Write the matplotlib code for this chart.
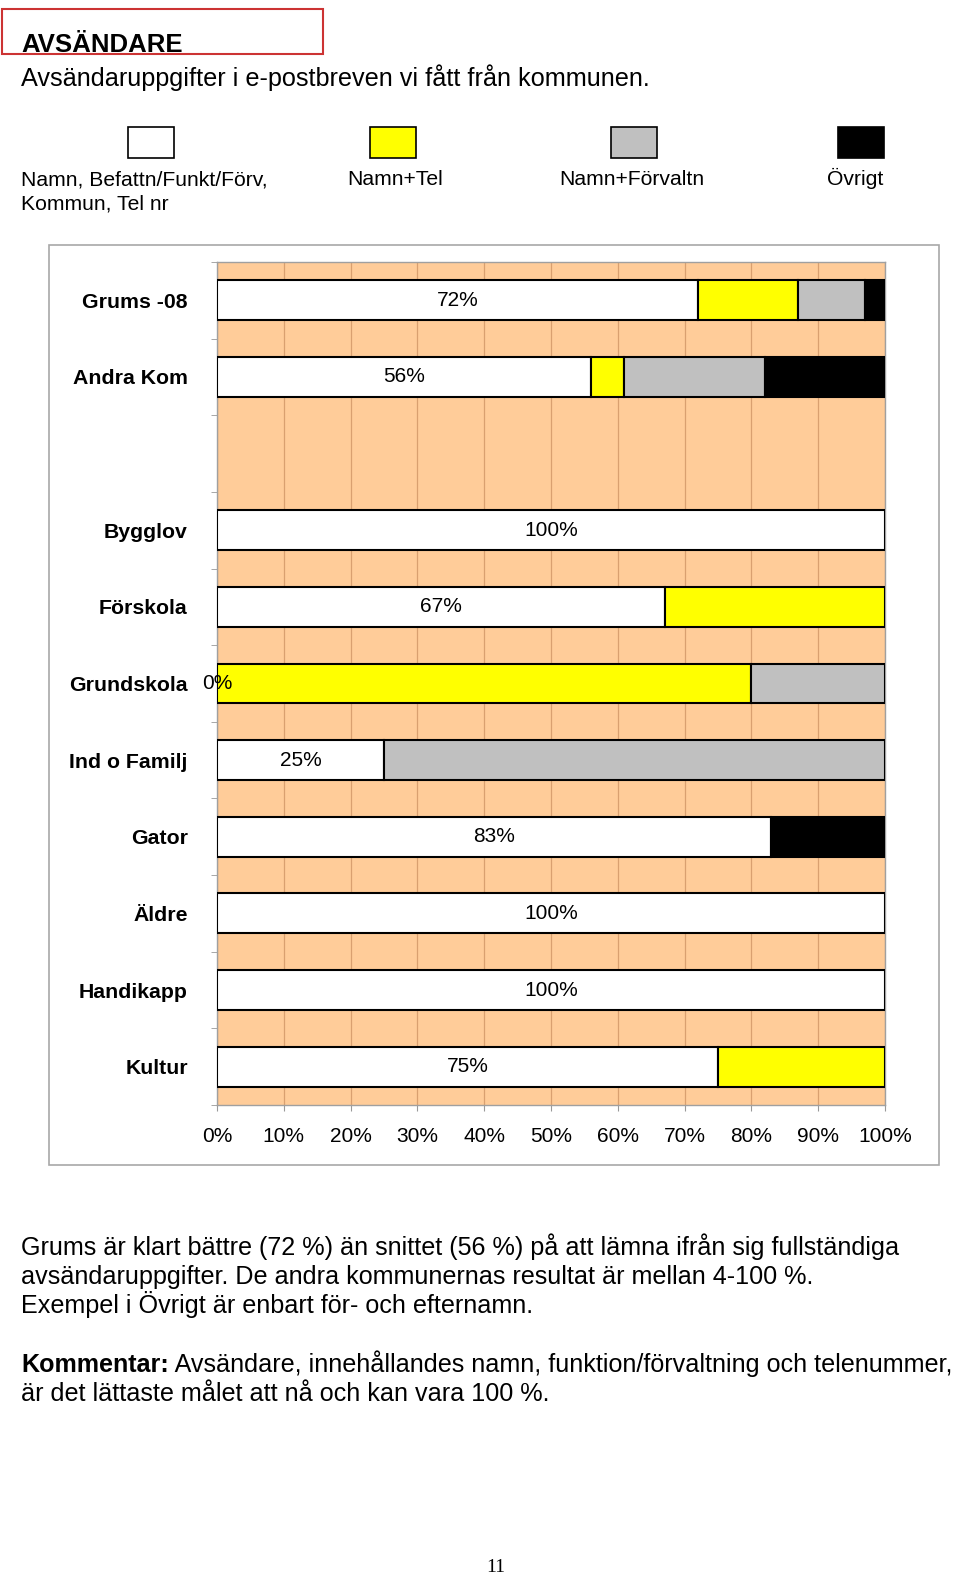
import matplotlib.pyplot as plt
import matplotlib.patches as patches
import numpy as np

plt.rcParams['font.family'] = ['Liberation Sans', 'DejaVu Sans']

# Data (percent)
categories = ['Grums -08', 'Andra Kom', '', 'Bygglov', 'Förskola', 'Grundskola',
              'Ind o Familj', 'Gator', 'Äldre', 'Handikapp', 'Kultur']
full_info = [72, 56, 0, 100, 67, 0, 25, 83, 100, 100, 75]   # Namn, Befattn/Funkt/Förv, Kommun, Tel nr
namn_tel = [15, 5, 0, 0, 33, 80, 0, 0, 0, 0, 25]             # Namn+Tel
namn_forv = [10, 21, 0, 0, 0, 20, 75, 0, 0, 0, 0]            # Namn+Förvaltn
ovrigt = [3, 18, 0, 0, 0, 0, 0, 17, 0, 0, 0]                 # Övrigt
show_label = [True, True, False, True, True, True, True, True, True, True, True]

series_names = ['Namn, Befattn/Funkt/Förv,\nKommun, Tel nr', 'Namn+Tel', 'Namn+Förvaltn', 'Övrigt']
series_colors = ['#FFFFFF', '#FFFF00', '#C0C0C0', '#000000']
xticks = [0, 10, 20, 30, 40, 50, 60, 70, 80, 90, 100]

W, H = 960, 1575
fig = plt.figure(figsize=(W / 100, H / 100), dpi=100)


def fx(px):
    return px / W


def fy(py):
    return 1 - py / H


# header
fig.patches.append(patches.Rectangle((fx(2), fy(54)), fx(321), 45 / H, transform=fig.transFigure,
                                     fill=False, edgecolor='#CC3333', linewidth=1.5))
fig.text(fx(21), fy(52), 'AVSÄNDARE', fontsize=18.5, fontweight='bold', va='baseline')
fig.text(fx(21), fy(86), 'Avsändaruppgifter i e-postbreven vi fått från kommunen.', fontsize=18.2, va='baseline')

# legend
swatch_x = [128, 370, 611, 838]
label_x = [21, 395, 632, 855]
label_ha = ['left', 'center', 'center', 'center']
for sx, lx, ha, name, col in zip(swatch_x, label_x, label_ha, series_names, series_colors):
    fig.patches.append(patches.Rectangle((fx(sx), fy(158)), fx(46), 31 / H, transform=fig.transFigure,
                                         facecolor=col, edgecolor='black', linewidth=1.2))
    for k, part in enumerate(name.split('\n')):
        fig.text(fx(lx), fy(185 + 24 * k), part, fontsize=15.2, ha=ha, va='baseline')

# chart frame
fig.patches.append(patches.Rectangle((fx(49), fy(1165)), fx(890), 920 / H, transform=fig.transFigure,
                                     fill=False, edgecolor='#A8A8A8', linewidth=1.2))

ax = fig.add_axes([fx(217), fy(1105), fx(885 - 217), (1105 - 262) / H])
ax.set_facecolor('#FFCC99')

y = np.arange(len(categories))
left = np.zeros(len(categories))
for vals, col in zip([full_info, namn_tel, namn_forv, ovrigt], series_colors):
    vals = np.array(vals, dtype=float)
    mask = (vals > 0)
    ax.barh(y[mask], vals[mask], left=left[mask], height=0.52, color=col,
            edgecolor='black', linewidth=1.5, zorder=3)
    left += vals

for yi, v, s in zip(y, full_info, show_label):
    if s:
        ax.text(v / 2, yi, f'{v}%', ha='center', va='center', fontsize=15, zorder=4)

ax.set_xlim(0, 100)
ax.set_ylim(len(categories) - 0.5, -0.5)
ax.set_xticks(xticks)
ax.set_xticklabels([f'{t}%' for t in xticks], fontsize=15)
ax.set_yticks(y)
ax.set_yticklabels(categories, fontsize=15.3, fontweight='bold')
ax.set_yticks(np.arange(-0.5, len(categories), 1), minor=True)
ax.tick_params(axis='y', which='major', length=0, pad=21)
ax.tick_params(axis='y', which='minor', length=4, color='#999999')
ax.tick_params(axis='x', length=4, color='#999999', pad=11.5)
ax.grid(axis='x', color='#D9A070', linewidth=0.9, zorder=1)
ax.set_axisbelow(True)
for sp in ax.spines.values():
    sp.set_color('#A0A0A0')
    sp.set_linewidth(1.0)

# body text
body = ['Grums är klart bättre (72 %) än snittet (56 %) på att lämna ifrån sig fullständiga',
        'avsändaruppgifter. De andra kommunernas resultat är mellan 4-100 %.',
        'Exempel i Övrigt är enbart för- och efternamn.']
for i, line in enumerate(body):
    fig.text(fx(21), fy(1255 + 29 * i), line, fontsize=18.1, va='baseline')

t1 = fig.text(fx(21), fy(1372), 'Kommentar:', fontsize=18.1, fontweight='bold', va='baseline')
plt.annotate(' Avsändare, innehållandes namn, funktion/förvaltning och telenummer,',
             xy=(1, 0), xycoords=t1, va='bottom', ha='left', fontsize=18.1,
             annotation_clip=False)
fig.text(fx(21), fy(1401), 'är det lättaste målet att nå och kan vara 100 %.', fontsize=18.1, va='baseline')

fig.text(fx(496), fy(1572), '11', fontsize=14, ha='center', va='baseline', family='Liberation Serif')

fig.savefig('out.png', dpi=100)
